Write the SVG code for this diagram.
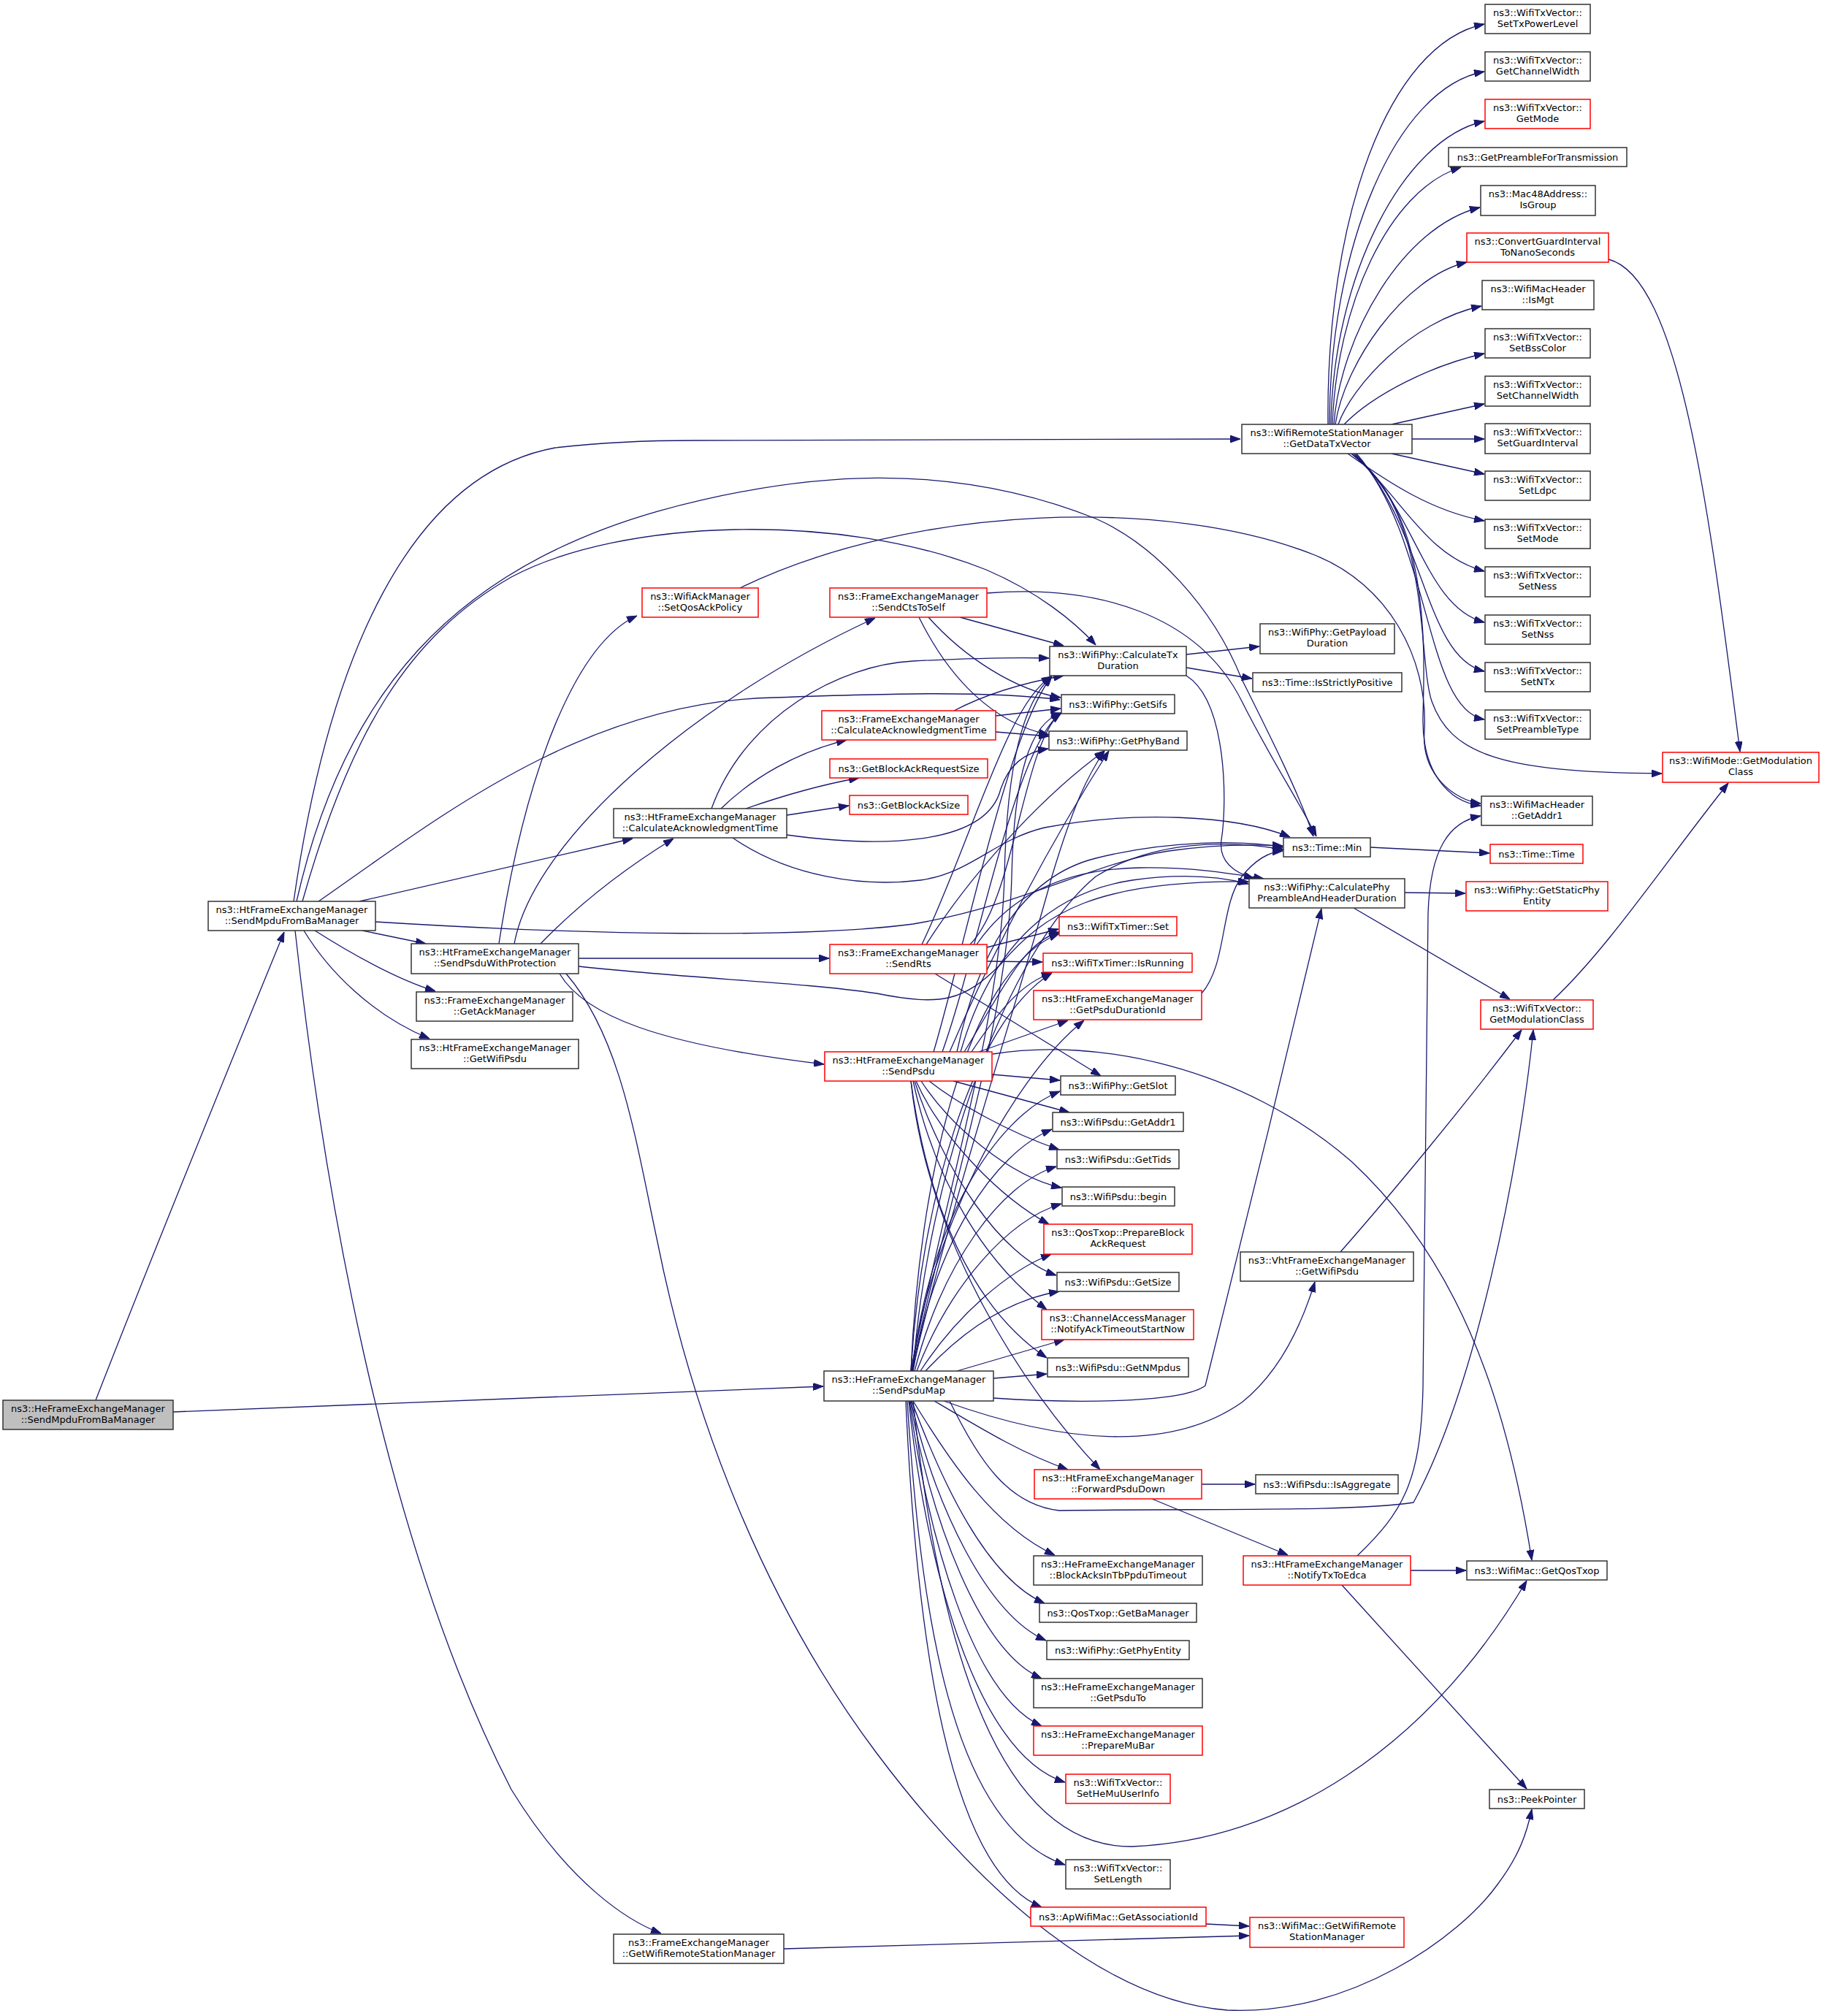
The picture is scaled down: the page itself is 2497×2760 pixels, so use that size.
<svg xmlns="http://www.w3.org/2000/svg" width="2497" height="2760" viewBox="0 0 2497 2760">
<style>
.e{fill:none;stroke:#191970;stroke-width:1.3;marker-end:url(#ah)}
.nd rect{fill:#fff;stroke:#333;stroke-width:1.5}
.rd rect{fill:#fff;stroke:#f00;stroke-width:1.5}
.rt rect{fill:#bfbfbf;stroke:#333;stroke-width:1.5}
text{font-family:"DejaVu Sans","Liberation Sans",sans-serif;font-size:13px;text-anchor:middle;fill:#000}
</style>
<defs>
<marker id="ah" markerWidth="14" markerHeight="10" refX="14" refY="5" orient="auto" markerUnits="userSpaceOnUse"><path d="M0,0 L14,5 L0,10 z" fill="#191970" stroke="#191970" stroke-width="1"/></marker>
</defs>
<rect width="2497" height="2760" fill="#fff"/>
<g id="edges">
<path class="e" d="M131,1917 C200,1740 330,1420 389,1276"/>
<path class="e" d="M237,1933 L1127,1898"/>
<path class="e" d="M402,1234 C450,900 560,650 760,613 C830,605 900,603 950,603 L1698,601"/>
<path class="e" d="M406,1234 C470,950 620,780 900,700 C1100,645 1300,630 1500,710 C1580,745 1660,830 1700,930 C1740,1010 1780,1090 1798,1145"/>
<path class="e" d="M414,1234 C480,1000 560,870 700,790 C850,710 1150,700 1350,780 C1420,810 1470,850 1500,883"/>
<path class="e" d="M436,1234 C600,1120 800,960 1060,955 C1200,950 1350,945 1451,958"/>
<path class="e" d="M492,1234 L866,1148"/>
<path class="e" d="M514,1262 C800,1280 1100,1285 1250,1265 C1400,1240 1500,1180 1600,1165 C1670,1155 1720,1156 1756,1158"/>
<path class="e" d="M496,1274 L583,1292"/>
<path class="e" d="M431,1274 C480,1305 540,1340 596,1357"/>
<path class="e" d="M416,1274 C450,1330 510,1390 588,1422"/>
<path class="e" d="M404,1274 C440,1600 520,2100 700,2450 C780,2580 860,2630 905,2647"/>
<path class="e" d="M683,1292 C720,1050 790,880 872,843"/>
<path class="e" d="M704,1292 C730,1150 950,960 1198,846"/>
<path class="e" d="M740,1292 C800,1230 870,1180 922,1148"/>
<path class="e" d="M792,1312 L1135,1312"/>
<path class="e" d="M792,1323 C950,1340 1100,1345 1200,1360 C1290,1378 1320,1370 1370,1320 C1430,1250 1500,1205 1709,1207"/>
<path class="e" d="M766,1333 C800,1390 900,1430 1128,1457"/>
<path class="e" d="M775,1333 C850,1420 870,1560 900,1700 C950,1950 1050,2200 1200,2400 C1350,2600 1520,2740 1680,2752 C1850,2760 2000,2650 2050,2580 C2080,2540 2090,2510 2097,2477"/>
<path class="e" d="M1013,805 C1250,690 1600,680 1800,760 C1900,800 1955,900 1950,1000 C1945,1060 1990,1095 2027,1100"/>
<path class="e" d="M987,1107 C1030,1065 1090,1030 1159,1013"/>
<path class="e" d="M1021,1107 C1070,1090 1120,1075 1176,1065"/>
<path class="e" d="M1077,1116 L1162,1103"/>
<path class="e" d="M974,1107 C1020,980 1150,910 1250,905 C1350,900 1400,900 1436,901"/>
<path class="e" d="M1077,1143 C1200,1160 1350,1160 1370,1080 C1380,1050 1400,1030 1435,1025"/>
<path class="e" d="M1003,1147 C1080,1200 1180,1215 1260,1205 C1330,1195 1360,1150 1430,1133 C1550,1110 1690,1115 1766,1146"/>
<path class="e" d="M1314,845 L1456,884"/>
<path class="e" d="M1271,845 C1320,900 1390,945 1452,955"/>
<path class="e" d="M1258,845 C1300,930 1360,990 1436,1006"/>
<path class="e" d="M1351,812 C1500,800 1640,840 1700,960 C1740,1040 1780,1100 1802,1145"/>
<path class="e" d="M1306,973 C1350,950 1400,935 1456,925"/>
<path class="e" d="M1363,980 L1452,970"/>
<path class="e" d="M1363,1002 L1436,1008"/>
<path class="e" d="M1624,896 L1724,885"/>
<path class="e" d="M1624,914 L1714,929"/>
<path class="e" d="M1624,925 C1680,960 1680,1100 1672,1150 C1668,1180 1690,1195 1717,1203"/>
<path class="e" d="M1262,1293 C1330,1150 1380,960 1440,926"/>
<path class="e" d="M1328,1293 C1390,1230 1400,1020 1452,976"/>
<path class="e" d="M1268,1293 C1340,1180 1440,1080 1512,1028"/>
<path class="e" d="M1351,1297 L1449,1272"/>
<path class="e" d="M1351,1316 L1427,1317"/>
<path class="e" d="M1280,1333 L1507,1473"/>
<path class="e" d="M1337,1293 C1380,1230 1450,1190 1560,1188 C1630,1187 1680,1195 1730,1203"/>
<path class="e" d="M1278,1440 C1320,1300 1380,1000 1440,926"/>
<path class="e" d="M1290,1440 C1340,1300 1390,1020 1453,976"/>
<path class="e" d="M1300,1440 C1360,1300 1440,1150 1518,1028"/>
<path class="e" d="M1320,1440 C1370,1360 1400,1290 1450,1276"/>
<path class="e" d="M1330,1440 C1370,1380 1400,1345 1440,1332"/>
<path class="e" d="M1340,1440 L1462,1397"/>
<path class="e" d="M1310,1440 C1340,1300 1400,1200 1500,1175 C1600,1150 1700,1150 1756,1160"/>
<path class="e" d="M1315,1440 C1350,1320 1420,1225 1550,1205 C1620,1195 1670,1200 1709,1210"/>
<path class="e" d="M1358,1471 L1451,1479"/>
<path class="e" d="M1305,1480 L1464,1523"/>
<path class="e" d="M1272,1480 C1310,1510 1380,1550 1450,1574"/>
<path class="e" d="M1261,1480 C1300,1540 1380,1610 1453,1626"/>
<path class="e" d="M1254,1480 C1290,1560 1370,1640 1436,1676"/>
<path class="e" d="M1252,1480 C1290,1600 1370,1720 1446,1746"/>
<path class="e" d="M1250,1480 C1280,1620 1350,1730 1433,1793"/>
<path class="e" d="M1247,1480 C1270,1650 1330,1790 1433,1859"/>
<path class="e" d="M1247,1480 C1270,1700 1400,1900 1506,2012"/>
<path class="e" d="M1359,1443 C1500,1420 1700,1460 1850,1590 C1990,1720 2060,1900 2097,2136"/>
<path class="e" d="M1247,1877 C1290,1650 1370,1400 1375,1200 C1378,1050 1400,960 1440,926"/>
<path class="e" d="M1248,1877 C1295,1650 1380,1400 1385,1200 C1388,1060 1410,990 1453,976"/>
<path class="e" d="M1249,1877 C1300,1650 1400,1350 1440,1200 C1470,1100 1490,1060 1512,1028"/>
<path class="e" d="M1247,1877 C1258,1620 1320,1330 1450,1278"/>
<path class="e" d="M1247,1877 C1260,1650 1330,1400 1440,1332"/>
<path class="e" d="M1248,1877 C1270,1700 1380,1480 1484,1397"/>
<path class="e" d="M1250,1877 C1270,1600 1380,1300 1500,1200 C1580,1150 1680,1150 1757,1163"/>
<path class="e" d="M1249,1877 C1270,1680 1360,1530 1451,1494"/>
<path class="e" d="M1250,1877 C1280,1700 1360,1580 1440,1546"/>
<path class="e" d="M1252,1877 C1290,1730 1370,1620 1446,1597"/>
<path class="e" d="M1255,1877 C1300,1760 1380,1670 1453,1648"/>
<path class="e" d="M1260,1877 C1310,1800 1380,1740 1439,1717"/>
<path class="e" d="M1267,1877 C1320,1820 1380,1780 1450,1768"/>
<path class="e" d="M1310,1877 L1457,1834"/>
<path class="e" d="M1360,1887 L1433,1881"/>
<path class="e" d="M1360,1914 C1480,1922 1620,1920 1650,1897 C1700,1700 1760,1450 1809,1244"/>
<path class="e" d="M1292,1918 C1450,1975 1600,1990 1700,1920 C1750,1880 1780,1820 1800,1755"/>
<path class="e" d="M1300,1918 C1340,2000 1380,2060 1450,2068 C1650,2065 1850,2070 1935,2057 C2020,1900 2080,1600 2099,1410"/>
<path class="e" d="M1279,1918 C1350,1960 1400,1990 1462,2012"/>
<path class="e" d="M1250,1918 C1300,2000 1360,2090 1444,2129"/>
<path class="e" d="M1248,1918 C1290,2030 1350,2160 1430,2195"/>
<path class="e" d="M1247,1918 C1280,2060 1350,2210 1432,2246"/>
<path class="e" d="M1246,1918 C1275,2080 1340,2260 1426,2298"/>
<path class="e" d="M1245,1918 C1270,2100 1330,2320 1426,2363"/>
<path class="e" d="M1244,1918 C1265,2120 1330,2400 1458,2440"/>
<path class="e" d="M1242,1918 C1260,2200 1300,2500 1458,2553"/>
<path class="e" d="M1240,1918 C1255,2250 1300,2560 1426,2611"/>
<path class="e" d="M1250,1918 C1280,2200 1350,2530 1550,2528 C1750,2520 1950,2400 2090,2164"/>
<path class="e" d="M1645,1360 C1680,1320 1670,1240 1700,1200 C1720,1175 1740,1166 1756,1165"/>
<path class="e" d="M1876,1160 L2039,1168"/>
<path class="e" d="M1923,1222 L2006,1223"/>
<path class="e" d="M1853,1243 L2067,1368"/>
<path class="e" d="M2126,1369 C2200,1300 2280,1180 2366,1072"/>
<path class="e" d="M2202,355 C2300,380 2340,700 2382,1029"/>
<path class="e" d="M1835,1714 C1900,1640 2000,1520 2083,1410"/>
<path class="e" d="M1645,2032 L1718,2032"/>
<path class="e" d="M1577,2052 L1763,2129"/>
<path class="e" d="M1931,2150 L2007,2150"/>
<path class="e" d="M1837,2170 L2090,2449"/>
<path class="e" d="M1858,2130 C1920,2070 1945,2030 1948,1900 L1955,1250 C1958,1160 1985,1125 2027,1117"/>
<path class="e" d="M1651,2634 L1710,2637"/>
<path class="e" d="M1073,2668 L1710,2650"/>
<path class="e" d="M1818,581 C1815,300 1900,60 2032,33"/>
<path class="e" d="M1820,581 C1820,340 1910,120 2032,98"/>
<path class="e" d="M1822,581 C1825,380 1920,190 2032,166"/>
<path class="e" d="M1824,581 C1830,420 1900,260 2000,229"/>
<path class="e" d="M1826,581 C1835,460 1920,310 2026,284"/>
<path class="e" d="M1828,581 C1840,500 1920,380 2008,359"/>
<path class="e" d="M1832,581 C1850,530 1930,440 2028,419"/>
<path class="e" d="M1840,581 C1880,540 1960,500 2032,484"/>
<path class="e" d="M1905,581 L2032,553"/>
<path class="e" d="M1933,601 L2032,601"/>
<path class="e" d="M1905,621 L2032,649"/>
<path class="e" d="M1845,621 C1900,660 1960,700 2032,713"/>
<path class="e" d="M1850,621 C1920,680 1950,760 2032,782"/>
<path class="e" d="M1853,621 C1940,700 1950,830 2032,852"/>
<path class="e" d="M1855,621 C1950,720 1950,900 2032,919"/>
<path class="e" d="M1857,621 C1960,740 1950,970 2032,985"/>
<path class="e" d="M1850,621 C1960,700 1950,900 1948,980 C1946,1060 1985,1098 2027,1103"/>
<path class="e" d="M1850,621 C1960,700 1940,900 1960,960 C1985,1030 2050,1058 2275,1059"/>
</g>
<g id="n0" class="rt"><rect x="4" y="1917" width="233" height="40"/><text x="120.5" y="1933">ns3::HeFrameExchangeManager</text><text x="120.5" y="1948">::SendMpduFromBaManager</text></g>
<g id="n1" class="nd"><rect x="285" y="1234" width="229" height="40"/><text x="399.5" y="1250">ns3::HtFrameExchangeManager</text><text x="399.5" y="1265">::SendMpduFromBaManager</text></g>
<g id="n2" class="nd"><rect x="563" y="1292" width="229" height="41"/><text x="677.5" y="1308">ns3::HtFrameExchangeManager</text><text x="677.5" y="1323">::SendPsduWithProtection</text></g>
<g id="n3" class="nd"><rect x="570" y="1358" width="214" height="40"/><text x="677" y="1374">ns3::FrameExchangeManager</text><text x="677" y="1389">::GetAckManager</text></g>
<g id="n4" class="nd"><rect x="563" y="1423" width="229" height="40"/><text x="677.5" y="1439">ns3::HtFrameExchangeManager</text><text x="677.5" y="1454">::GetWifiPsdu</text></g>
<g id="n5" class="nd"><rect x="840" y="2648" width="233" height="40"/><text x="956.5" y="2664">ns3::FrameExchangeManager</text><text x="956.5" y="2679">::GetWifiRemoteStationManager</text></g>
<g id="n6" class="rd"><rect x="879" y="805" width="159" height="40"/><text x="958.5" y="821">ns3::WifiAckManager</text><text x="958.5" y="836">::SetQosAckPolicy</text></g>
<g id="n7" class="nd"><rect x="840" y="1107" width="237" height="40"/><text x="958.5" y="1123">ns3::HtFrameExchangeManager</text><text x="958.5" y="1138">::CalculateAcknowledgmentTime</text></g>
<g id="n8" class="rd"><rect x="1136" y="805" width="215" height="40"/><text x="1243.5" y="821">ns3::FrameExchangeManager</text><text x="1243.5" y="836">::SendCtsToSelf</text></g>
<g id="n9" class="rd"><rect x="1125" y="973" width="238" height="40"/><text x="1244" y="989">ns3::FrameExchangeManager</text><text x="1244" y="1004">::CalculateAcknowledgmentTime</text></g>
<g id="n10" class="rd"><rect x="1136" y="1039" width="216" height="26"/><text x="1244" y="1056.5">ns3::GetBlockAckRequestSize</text></g>
<g id="n11" class="rd"><rect x="1163" y="1089" width="162" height="26"/><text x="1244" y="1106.5">ns3::GetBlockAckSize</text></g>
<g id="n12" class="rd"><rect x="1136" y="1293" width="215" height="40"/><text x="1243.5" y="1309">ns3::FrameExchangeManager</text><text x="1243.5" y="1324">::SendRts</text></g>
<g id="n13" class="rd"><rect x="1129" y="1440" width="229" height="40"/><text x="1243.5" y="1456">ns3::HtFrameExchangeManager</text><text x="1243.5" y="1471">::SendPsdu</text></g>
<g id="n14" class="nd"><rect x="1128" y="1877" width="232" height="41"/><text x="1244" y="1893">ns3::HeFrameExchangeManager</text><text x="1244" y="1908">::SendPsduMap</text></g>
<g id="n15" class="nd"><rect x="1437" y="885" width="187" height="40"/><text x="1530.5" y="901">ns3::WifiPhy::CalculateTx</text><text x="1530.5" y="916">Duration</text></g>
<g id="n16" class="nd"><rect x="1453" y="951" width="155" height="26"/><text x="1530.5" y="968.5">ns3::WifiPhy::GetSifs</text></g>
<g id="n17" class="nd"><rect x="1436" y="1001" width="189" height="26"/><text x="1530.5" y="1018.5">ns3::WifiPhy::GetPhyBand</text></g>
<g id="n18" class="rd"><rect x="1450" y="1255" width="161" height="26"/><text x="1530.5" y="1272.5">ns3::WifiTxTimer::Set</text></g>
<g id="n19" class="rd"><rect x="1428" y="1305" width="204" height="26"/><text x="1530" y="1322.5">ns3::WifiTxTimer::IsRunning</text></g>
<g id="n20" class="rd"><rect x="1415" y="1356" width="230" height="40"/><text x="1530" y="1372">ns3::HtFrameExchangeManager</text><text x="1530" y="1387">::GetPsduDurationId</text></g>
<g id="n21" class="nd"><rect x="1452" y="1473" width="157" height="26"/><text x="1530.5" y="1490.5">ns3::WifiPhy::GetSlot</text></g>
<g id="n22" class="nd"><rect x="1441" y="1523" width="179" height="26"/><text x="1530.5" y="1540.5">ns3::WifiPsdu::GetAddr1</text></g>
<g id="n23" class="nd"><rect x="1447" y="1574" width="167" height="26"/><text x="1530.5" y="1591.5">ns3::WifiPsdu::GetTids</text></g>
<g id="n24" class="nd"><rect x="1454" y="1625" width="154" height="26"/><text x="1531" y="1642.5">ns3::WifiPsdu::begin</text></g>
<g id="n25" class="rd"><rect x="1429" y="1676" width="203" height="41"/><text x="1530.5" y="1692">ns3::QosTxop::PrepareBlock</text><text x="1530.5" y="1707">AckRequest</text></g>
<g id="n26" class="nd"><rect x="1447" y="1742" width="167" height="26"/><text x="1530.5" y="1759.5">ns3::WifiPsdu::GetSize</text></g>
<g id="n27" class="rd"><rect x="1426" y="1793" width="208" height="41"/><text x="1530" y="1809">ns3::ChannelAccessManager</text><text x="1530" y="1824">::NotifyAckTimeoutStartNow</text></g>
<g id="n28" class="nd"><rect x="1434" y="1859" width="193" height="26"/><text x="1530.5" y="1876.5">ns3::WifiPsdu::GetNMpdus</text></g>
<g id="n29" class="rd"><rect x="1416" y="2012" width="229" height="40"/><text x="1530.5" y="2028">ns3::HtFrameExchangeManager</text><text x="1530.5" y="2043">::ForwardPsduDown</text></g>
<g id="n30" class="nd"><rect x="1415" y="2130" width="231" height="40"/><text x="1530.5" y="2146">ns3::HeFrameExchangeManager</text><text x="1530.5" y="2161">::BlockAcksInTbPpduTimeout</text></g>
<g id="n31" class="nd"><rect x="1423" y="2195" width="215" height="26"/><text x="1530.5" y="2212.5">ns3::QosTxop::GetBaManager</text></g>
<g id="n32" class="nd"><rect x="1433" y="2246" width="195" height="26"/><text x="1530.5" y="2263.5">ns3::WifiPhy::GetPhyEntity</text></g>
<g id="n33" class="nd"><rect x="1415" y="2298" width="231" height="40"/><text x="1530.5" y="2314">ns3::HeFrameExchangeManager</text><text x="1530.5" y="2329">::GetPsduTo</text></g>
<g id="n34" class="rd"><rect x="1415" y="2363" width="231" height="40"/><text x="1530.5" y="2379">ns3::HeFrameExchangeManager</text><text x="1530.5" y="2394">::PrepareMuBar</text></g>
<g id="n35" class="rd"><rect x="1459" y="2429" width="143" height="40"/><text x="1530.5" y="2445">ns3::WifiTxVector::</text><text x="1530.5" y="2460">SetHeMuUserInfo</text></g>
<g id="n36" class="nd"><rect x="1459" y="2546" width="143" height="40"/><text x="1530.5" y="2562">ns3::WifiTxVector::</text><text x="1530.5" y="2577">SetLength</text></g>
<g id="n37" class="rd"><rect x="1411" y="2611" width="240" height="26"/><text x="1531" y="2628.5">ns3::ApWifiMac::GetAssociationId</text></g>
<g id="n38" class="nd"><rect x="1700" y="581" width="233" height="40"/><text x="1816.5" y="597">ns3::WifiRemoteStationManager</text><text x="1816.5" y="612">::GetDataTxVector</text></g>
<g id="n39" class="nd"><rect x="1725" y="854" width="184" height="41"/><text x="1817" y="870">ns3::WifiPhy::GetPayload</text><text x="1817" y="885">Duration</text></g>
<g id="n40" class="nd"><rect x="1715" y="921" width="204" height="26"/><text x="1817" y="938.5">ns3::Time::IsStrictlyPositive</text></g>
<g id="n41" class="nd"><rect x="1757" y="1147" width="119" height="26"/><text x="1816.5" y="1164.5">ns3::Time::Min</text></g>
<g id="n42" class="nd"><rect x="1710" y="1203" width="213" height="40"/><text x="1816.5" y="1219">ns3::WifiPhy::CalculatePhy</text><text x="1816.5" y="1234">PreambleAndHeaderDuration</text></g>
<g id="n43" class="nd"><rect x="1698" y="1714" width="237" height="40"/><text x="1816.5" y="1730">ns3::VhtFrameExchangeManager</text><text x="1816.5" y="1745">::GetWifiPsdu</text></g>
<g id="n44" class="nd"><rect x="1719" y="2019" width="195" height="26"/><text x="1816.5" y="2036.5">ns3::WifiPsdu::IsAggregate</text></g>
<g id="n45" class="rd"><rect x="1702" y="2130" width="229" height="40"/><text x="1816.5" y="2146">ns3::HtFrameExchangeManager</text><text x="1816.5" y="2161">::NotifyTxToEdca</text></g>
<g id="n46" class="rd"><rect x="1711" y="2625" width="211" height="41"/><text x="1816.5" y="2641">ns3::WifiMac::GetWifiRemote</text><text x="1816.5" y="2656">StationManager</text></g>
<g id="n47" class="nd"><rect x="2033" y="6" width="144" height="40"/><text x="2105" y="22">ns3::WifiTxVector::</text><text x="2105" y="37">SetTxPowerLevel</text></g>
<g id="n48" class="nd"><rect x="2033" y="71" width="144" height="40"/><text x="2105" y="87">ns3::WifiTxVector::</text><text x="2105" y="102">GetChannelWidth</text></g>
<g id="n49" class="rd"><rect x="2033" y="136" width="144" height="40"/><text x="2105" y="152">ns3::WifiTxVector::</text><text x="2105" y="167">GetMode</text></g>
<g id="n50" class="nd"><rect x="1983" y="202" width="244" height="26"/><text x="2105" y="219.5">ns3::GetPreambleForTransmission</text></g>
<g id="n51" class="nd"><rect x="2027" y="254" width="157" height="41"/><text x="2105.5" y="270">ns3::Mac48Address::</text><text x="2105.5" y="285">IsGroup</text></g>
<g id="n52" class="rd"><rect x="2008" y="319" width="194" height="40"/><text x="2105" y="335">ns3::ConvertGuardInterval</text><text x="2105" y="350">ToNanoSeconds</text></g>
<g id="n53" class="nd"><rect x="2029" y="384" width="153" height="40"/><text x="2105.5" y="400">ns3::WifiMacHeader</text><text x="2105.5" y="415">::IsMgt</text></g>
<g id="n54" class="nd"><rect x="2033" y="450" width="144" height="40"/><text x="2105" y="466">ns3::WifiTxVector::</text><text x="2105" y="481">SetBssColor</text></g>
<g id="n55" class="nd"><rect x="2033" y="515" width="144" height="41"/><text x="2105" y="531">ns3::WifiTxVector::</text><text x="2105" y="546">SetChannelWidth</text></g>
<g id="n56" class="nd"><rect x="2033" y="580" width="144" height="41"/><text x="2105" y="596">ns3::WifiTxVector::</text><text x="2105" y="611">SetGuardInterval</text></g>
<g id="n57" class="nd"><rect x="2033" y="645" width="144" height="40"/><text x="2105" y="661">ns3::WifiTxVector::</text><text x="2105" y="676">SetLdpc</text></g>
<g id="n58" class="nd"><rect x="2033" y="711" width="144" height="40"/><text x="2105" y="727">ns3::WifiTxVector::</text><text x="2105" y="742">SetMode</text></g>
<g id="n59" class="nd"><rect x="2033" y="776" width="144" height="41"/><text x="2105" y="792">ns3::WifiTxVector::</text><text x="2105" y="807">SetNess</text></g>
<g id="n60" class="nd"><rect x="2033" y="842" width="144" height="40"/><text x="2105" y="858">ns3::WifiTxVector::</text><text x="2105" y="873">SetNss</text></g>
<g id="n61" class="nd"><rect x="2033" y="907" width="144" height="40"/><text x="2105" y="923">ns3::WifiTxVector::</text><text x="2105" y="938">SetNTx</text></g>
<g id="n62" class="nd"><rect x="2033" y="972" width="144" height="40"/><text x="2105" y="988">ns3::WifiTxVector::</text><text x="2105" y="1003">SetPreambleType</text></g>
<g id="n63" class="nd"><rect x="2028" y="1090" width="152" height="40"/><text x="2104" y="1106">ns3::WifiMacHeader</text><text x="2104" y="1121">::GetAddr1</text></g>
<g id="n64" class="rd"><rect x="2040" y="1156" width="127" height="26"/><text x="2103.5" y="1173.5">ns3::Time::Time</text></g>
<g id="n65" class="rd"><rect x="2007" y="1207" width="194" height="40"/><text x="2104" y="1223">ns3::WifiPhy::GetStaticPhy</text><text x="2104" y="1238">Entity</text></g>
<g id="n66" class="rd"><rect x="2027" y="1369" width="154" height="40"/><text x="2104" y="1385">ns3::WifiTxVector::</text><text x="2104" y="1400">GetModulationClass</text></g>
<g id="n67" class="nd"><rect x="2008" y="2137" width="192" height="26"/><text x="2104" y="2154.5">ns3::WifiMac::GetQosTxop</text></g>
<g id="n68" class="nd"><rect x="2039" y="2450" width="130" height="26"/><text x="2104" y="2467.5">ns3::PeekPointer</text></g>
<g id="n69" class="rd"><rect x="2276" y="1030" width="214" height="41"/><text x="2383" y="1046">ns3::WifiMode::GetModulation</text><text x="2383" y="1061">Class</text></g>
</svg>
